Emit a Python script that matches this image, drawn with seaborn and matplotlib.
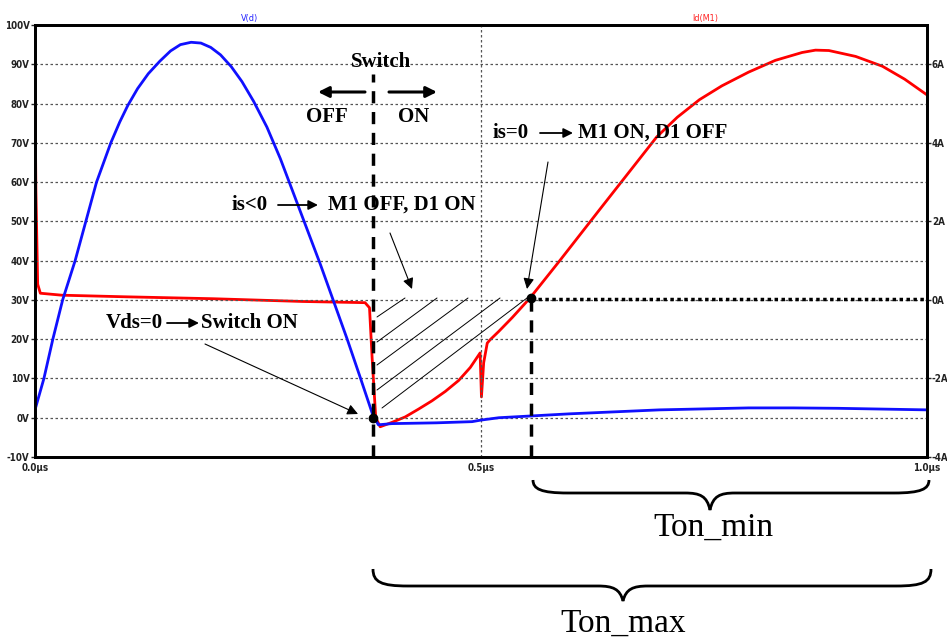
import numpy as np
import pandas as pd
import matplotlib
matplotlib.use("Agg")
import matplotlib.pyplot as plt
from matplotlib.path import Path
from matplotlib.patches import PathPatch
import seaborn as sns

# ---------------- data ----------------
t_vd = [0.000, 0.010, 0.020, 0.031, 0.045, 0.057, 0.069, 0.085, 0.095, 0.104,
        0.115, 0.127, 0.140, 0.152, 0.163, 0.175, 0.186, 0.197, 0.208, 0.220,
        0.232, 0.245, 0.260, 0.275, 0.290, 0.305, 0.320, 0.335, 0.350, 0.365,
        0.379, 0.385, 0.400, 0.450, 0.490, 0.500, 0.520, 0.600, 0.700, 0.800,
        0.850, 0.900, 0.950, 1.000]
v_d = [2.0, 10.0, 20.0, 30.0, 40.0, 50.0, 60.0, 70.0, 75.3, 79.5,
       83.8, 87.6, 90.8, 93.4, 95.0, 95.6, 95.4, 94.3, 92.4, 89.4,
       85.6, 80.6, 74.0, 66.0, 57.0, 48.0, 39.0, 29.5, 20.0, 10.0,
       0.5, -1.8, -1.5, -1.3, -1.0, -0.6, 0.0, 1.0, 2.0, 2.5,
       2.5, 2.4, 2.2, 2.0]

t_id = [0.000, 0.001, 0.003, 0.006, 0.030, 0.100, 0.200, 0.300, 0.370, 0.375,
        0.378, 0.382, 0.387, 0.400, 0.415, 0.430, 0.445, 0.460, 0.475, 0.488,
        0.499, 0.5005, 0.503, 0.507, 0.510, 0.520, 0.535, 0.555, 0.589, 0.633,
        0.697, 0.720, 0.745, 0.770, 0.800, 0.830, 0.860, 0.875, 0.890, 0.920,
        0.950, 0.975, 1.000]
i_d = [5.4, 2.8, 0.4, 0.17, 0.12, 0.08, 0.03, -0.04, -0.07, -0.2,
       -1.5, -3.0, -3.23, -3.12, -2.98, -2.78, -2.57, -2.33, -2.05, -1.72,
       -1.35, -2.47, -1.6, -1.1, -1.02, -0.8, -0.45, 0.05, 1.02, 2.3,
       4.15, 4.65, 5.1, 5.45, 5.8, 6.1, 6.3, 6.36, 6.35, 6.2,
       5.95, 5.62, 5.22]

v_ticks = [-10, 0, 10, 20, 30, 40, 50, 60, 70, 80, 90, 100]
v_labels = ["-10V", "0V", "10V", "20V", "30V", "40V", "50V", "60V", "70V", "80V", "90V", "100V"]
a_ticks = [-4, -2, 0, 2, 4, 6]
a_labels = ["-4A", "-2A", "0A", "2A", "4A", "6A"]
t_ticks = [0.0, 0.5, 1.0]
t_labels = ["0.0µs", "0.5µs", "1.0µs"]

t_switch = 0.379
t_zero = 0.556

# ---------------- figure ----------------
sns.set_style("ticks")
plt.rcParams["font.family"] = ["DejaVu Sans"]

W, H = 947, 639
fig = plt.figure(figsize=(W / 100, H / 100), dpi=100)
L, R, T, B = 35, 927, 25, 457
ax = fig.add_axes([L / W, (H - B) / H, (R - L) / W, (B - T) / H])
ax2 = ax.twinx()

df_v = pd.DataFrame({"t": t_vd, "v": v_d})
df_i = pd.DataFrame({"t": t_id, "i": i_d})
sns.lineplot(data=df_v, x="t", y="v", ax=ax, color="#1010ff", lw=2, estimator=None, sort=False)
sns.lineplot(data=df_i, x="t", y="i", ax=ax2, color="#ff0000", lw=2, estimator=None, sort=False)

ax.set_xlim(0, 1)
ax.set_ylim(-10, 100)
ax2.set_ylim(-4, 7)
ax.set_xlabel("")
ax.set_ylabel("")
ax2.set_ylabel("")

tick_font = dict(fontsize=7, fontweight="bold", color="#222222", fontstretch="condensed")
ax.set_yticks(v_ticks)
ax.set_yticklabels(v_labels, **tick_font)
ax2.set_yticks(a_ticks)
ax2.set_yticklabels(a_labels, **tick_font)
ax.set_xticks(t_ticks)
ax.set_xticklabels(t_labels, **tick_font)
ax.tick_params(axis="y", direction="out", length=3, width=1, pad=1)
ax2.tick_params(axis="y", direction="out", length=3, width=1, pad=0.5)
ax.tick_params(axis="x", direction="out", length=0, pad=4)

for a in (ax, ax2):
    for s in a.spines.values():
        s.set_linewidth(2)
        s.set_color("black")
        s.set_visible(True)

# grid
for v in v_ticks[1:-1]:
    ax.axhline(v, color="#555555", lw=0.9, ls=(0, (2, 2)), zorder=0)
ax.axvline(0.5, color="#555555", lw=0.9, ls=(0, (2, 2)), zorder=0)

ax.set_zorder(ax2.get_zorder() + 1)
ax.patch.set_visible(False)

# annotation marks in data coordinates
ax.plot([t_switch, t_switch], [-10, 87.5], color="black", lw=2.5, ls=(0, (3.5, 2.5)), zorder=5)
ax.plot([t_zero, t_zero], [-10, 30], color="black", lw=2.5, ls=(0, (3.5, 2.5)), zorder=5)
ax.plot([t_zero, 1.0], [30.3, 30.3], color="black", lw=2.5, ls=(0, (1, 1)), zorder=5)
ax.plot([t_switch], [0], "o", color="black", ms=6, zorder=6)
ax.plot([t_zero], [30.5], "o", color="black", ms=6, zorder=6)

# ---------------- overlay (pixel coordinates) ----------------
ov = fig.add_axes([0, 0, 1, 1], zorder=20)
ov.set_xlim(0, W)
ov.set_ylim(H, 0)
ov.axis("off")
ov.patch.set_visible(False)

ov.text(250, 18, "V(d)", color="#2020ff", fontsize=6.5, ha="center", va="center", fontstretch="condensed")
ov.text(705, 18, "Id(M1)", color="#ff2020", fontsize=6.5, ha="center", va="center", fontstretch="condensed")

serif = ["Liberation Serif", "DejaVu Serif"]
tb = dict(family=serif, fontweight="bold", fontsize=15, color="black", va="center")

ov.text(381, 62, "Switch", ha="center", **tb)
ov.text(327, 117, "OFF", ha="center", **tb)
ov.text(414, 117, "ON", ha="center", **tb)
big_arrow = dict(arrowstyle="-|>", lw=2.2, color="black", mutation_scale=16, shrinkA=0, shrinkB=0)
ov.annotate("", xy=(318, 92), xytext=(365, 92), arrowprops=big_arrow)
ov.annotate("", xy=(437, 92), xytext=(389, 92), arrowprops=big_arrow)

small_arrow = dict(arrowstyle="-|>", lw=1.3, color="black", mutation_scale=14, shrinkA=0, shrinkB=0)
ov.text(493, 133, "is=0", ha="left", **tb)
ov.annotate("", xy=(573, 133), xytext=(540, 133), arrowprops=small_arrow)
ov.text(578, 133, "M1 ON, D1 OFF", ha="left", **tb)

ov.text(232, 205, "is<0", ha="left", **tb)
ov.annotate("", xy=(318, 205), xytext=(278, 205), arrowprops=small_arrow)
ov.text(328, 205, "M1 OFF, D1 ON", ha="left", **tb)

ov.text(106, 323, "Vds=0", ha="left", **tb)
ov.annotate("", xy=(199, 323), xytext=(167, 323), arrowprops=small_arrow)
ov.text(201, 323, "Switch ON", ha="left", **tb)

thin_arrow = dict(arrowstyle="-|>", lw=0.8, color="black", mutation_scale=16, shrinkA=0, shrinkB=0)
ov.annotate("", xy=(358, 414), xytext=(205, 344), arrowprops=thin_arrow)
ov.annotate("", xy=(412, 289), xytext=(390, 233), arrowprops=thin_arrow)
ov.annotate("", xy=(527, 289), xytext=(548, 162), arrowprops=thin_arrow)

# hatch lines of the is<0 area
hatch = [((377, 317), (405, 298)), ((377, 342), (437, 298)), ((377, 365), (468, 298)),
         ((377, 390), (500, 298)), ((382, 408), (527, 298))]
for (x0, y0), (x1, y1) in hatch:
    ov.plot([x0, x1], [y0, y1], color="black", lw=0.7)


def brace(x0, x1, xt, ytop, yline, ytip):
    verts = [(x0, ytop),
             (x0, yline - 4), (x0 + 8, yline), (x0 + 35, yline),
             (xt - 25, yline),
             (xt - 10, yline), (xt - 3, yline + 3), (xt, ytip),
             (xt + 3, yline + 3), (xt + 10, yline), (xt + 25, yline),
             (x1 - 35, yline),
             (x1 - 8, yline), (x1, yline - 4), (x1, ytop)]
    codes = [Path.MOVETO,
             Path.CURVE4, Path.CURVE4, Path.CURVE4,
             Path.LINETO,
             Path.CURVE4, Path.CURVE4, Path.CURVE4,
             Path.CURVE4, Path.CURVE4, Path.CURVE4,
             Path.LINETO,
             Path.CURVE4, Path.CURVE4, Path.CURVE4]
    ov.add_patch(PathPatch(Path(verts, codes), fill=False, lw=2, color="black"))


brace(533, 929, 710, 480, 493, 510)
brace(373, 931, 623, 569, 586, 601)

tn = dict(family=serif, fontsize=24, color="black", ha="center", va="center")
ov.text(713, 528, "Ton_min", **tn)
ov.text(623, 623, "Ton_max", **tn)

fig.savefig("out.png", dpi=100)
